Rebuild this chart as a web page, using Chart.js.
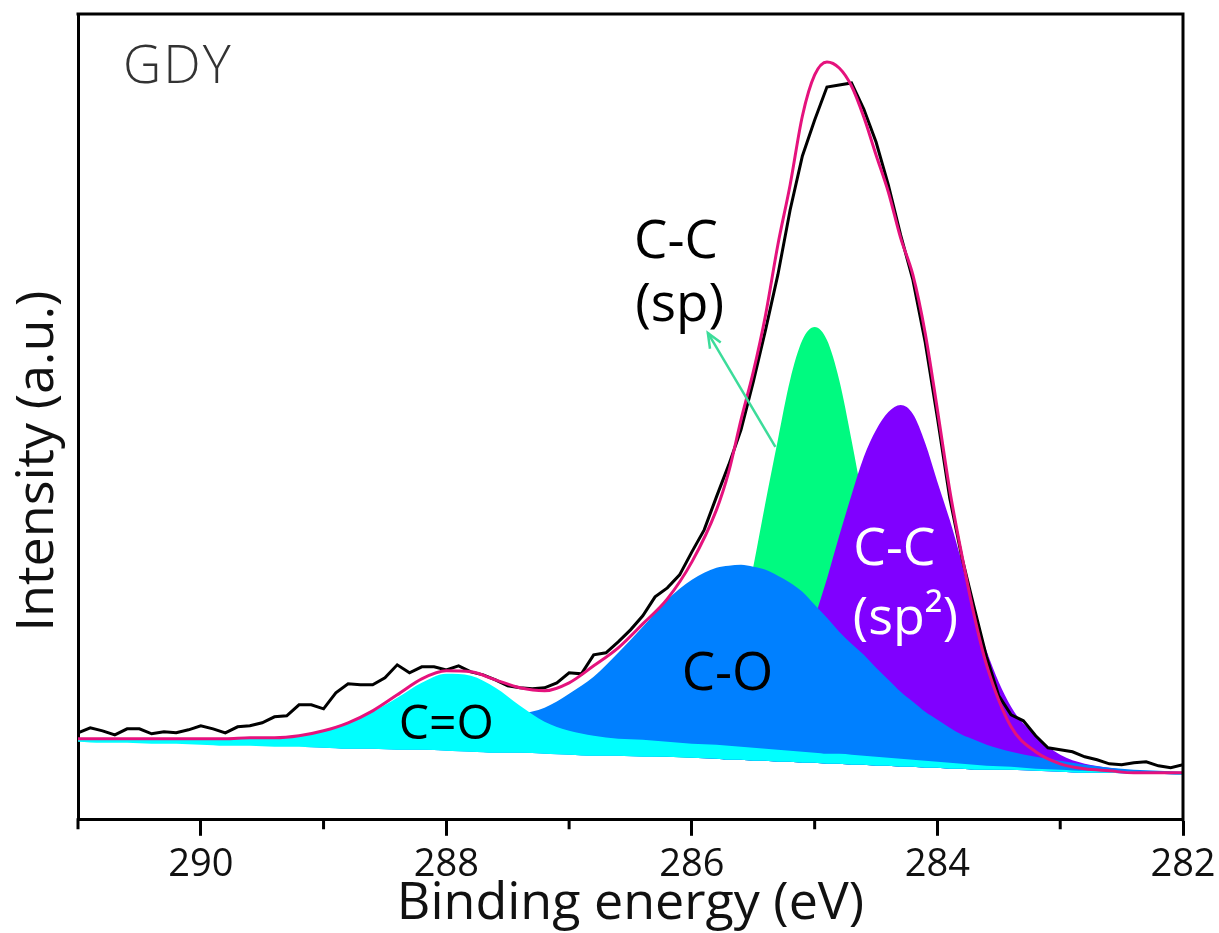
<!DOCTYPE html>
<html>
<head>
<meta charset="utf-8">
<script src="https://cdn.jsdelivr.net/npm/chart.js@4/dist/chart.umd.min.js"></script>
<style>
  html, body { margin: 0; padding: 0; background: #fff; }
  #wrap { width: 1219px; height: 933px; }
</style>
</head>
<body>
<div id="wrap"><canvas id="xpsChart" width="1219" height="933"></canvas></div>
<script>
// C 1s spectrum of GDY: binding energy (eV) vs intensity (a.u.)

// raw spectrum, 0.1 eV steps from 291.0 down to 282.0
const rawEnergy = [291.0,290.9,290.8,290.7,290.6,290.5,290.4,290.3,290.2,290.1,
  290.0,289.9,289.8,289.7,289.6,289.5,289.4,289.3,289.2,289.1,
  289.0,288.9,288.8,288.7,288.6,288.5,288.4,288.3,288.2,288.1,
  288.0,287.9,287.8,287.7,287.6,287.5,287.4,287.3,287.2,287.1,
  287.0,286.9,286.8,286.7,286.6,286.5,286.4,286.3,286.2,286.1,
  286.0,285.9,285.8,285.7,285.6,285.5,285.4,285.3,285.2,285.1,
  285.0,284.9,284.8,284.7,284.6,284.5,284.4,284.3,284.2,284.1,
  284.0,283.9,283.8,283.7,283.6,283.5,283.4,283.3,283.2,283.1,
  283.0,282.9,282.8,282.7,282.6,282.5,282.4,282.3,282.2,282.1,282.0];
const rawCounts = [87,92,89,85,91,91,86,88,87,90,
  94,91,87,93,94,97,103,104,115,115,
  111,127,136,135,135,142,155,147,153,153,
  150,154,148,145,140,134,132,131,132,137,
  147,146,165,167,178,190,204,223,232,245,
  268,290,323,355,390,438,490,545,610,664,
  700,733,735,737,711,678,635,585,540,478,
  402,322,262,212,163,124,105,99,84,72,
  70,68,63,60,56,55,57,58,54,52,55];

// energies shared by the envelope and the fitted components
const fitEnergy = [291.0,290.8,290.6,290.4,290.2,290.0,289.8,289.6,289.4,289.2,
  289.0,288.8,288.6,288.4,288.2,288.0,287.8,287.6,287.4,287.2,
  287.0,286.8,286.6,286.4,286.2,286.0,285.8,
  285.7,285.6,285.5,285.4,285.3,285.2,285.1,285.0,284.9,284.8,
  284.7,284.6,284.5,284.4,284.3,284.2,284.1,284.0,283.9,283.8,
  283.7,283.6,
  283.4,283.2,283.0,282.8,282.6,282.4,282.2,282.0];

const envelope = [81,81,81,81,81,81,81,82,82,84,
  89,97,109,125,141,149,148,140,132,129,
  137,154,172,196,221,258,310,
  348,400,448,505,575,635,704,745,758,752,
  734,703,665,628,582,545,487,410,330,264,
  204,155,
  93,68,56,51,49,47,47,47];
const background = [78,77,77,76,76,75,74,74,73,73,
  72,71,71,70,70,69,68,67,67,66,
  65,64,64,63,63,62,61,
  60,60,59,59,58,58,57,57,56,56,
  55,55,54,54,53,53,52,52,51,51,
  50,50,
  50,49,48,47,47,46,46,45];
const peakCO2 = [80,80,80,80,80,80,81,81,82,84,      // C=O
  89,97,108,122,137,146,144,132,114,98,
  89,84,81,80,78,76,75,
  74,73,72,71,70,69,68,67,66,66,
  65,64,63,62,61,60,59,58,57,56,
  55,54,
  53,51,50,49,49,48,47,47];
const peakCO = [78,77,77,76,76,75,74,74,73,73,       // C-O
  73,73,74,75,77,80,86,95,105,112,
  126,143,167,193,220,240,252,
  254,255,253,250,244,237,228,215,202,188,
  176,165,152,140,128,118,108,100,92,85,
  80,75,
  68,63,59,55,52,50,49,48];
const peakSp2 = [78,77,77,76,76,75,74,74,73,73,      // C-C (sp2)
  72,71,71,70,70,69,68,67,67,66,
  65,64,64,63,63,62,62,
  67,73,83,96,114,137,165,202,241,284,
  325,363,390,408,415,406,377,338,300,257,
  211,169,
  113,84,65,56,52,49,48,47];
const peakSp = [78,77,77,76,76,75,74,74,73,73,       // C-C (sp)
  72,71,71,70,70,69,68,67,67,66,
  65,64,64,63,65,78,115,
  148,192,253,318,380,440,480,493,480,440,
  380,314,248,186,140,107,83,68,60,55,
  52,51,
  50,49,48,47,47,46,46,45];

const xTicks = [282, 283, 284, 285, 286, 287, 288, 289, 290, 291];

function pts(xs, ys) {
  return xs.map((x, i) => ({ x: x, y: ys[i] }));
}

Chart.defaults.font.family = "'Open Sans', 'DejaVu Sans', sans-serif";
Chart.defaults.color = '#111';

const BG = 6; // index of the background dataset the peaks are filled to

// peak labels, arrow, y title, frame and minor ticks
const decorations = {
  id: 'decorations',
  afterDatasetsDraw(chart) {
    const { ctx, chartArea: a, scales: { x, y } } = chart;
    const put = (txt, e, v) => ctx.fillText(txt, x.getPixelForValue(e), y.getPixelForValue(v));
    ctx.save();
    ctx.textAlign = 'center';
    ctx.textBaseline = 'alphabetic';
    ctx.fillStyle = '#000';
    ctx.font = "53px 'Open Sans'";
    put('C-C', 286.13, 562);
    put('(sp)', 286.10, 499);
    put('C-O', 285.71, 130);
    ctx.font = "48px 'Open Sans'";
    put('C=O', 288.0, 81);
    ctx.fillStyle = '#fff';
    ctx.font = "52px 'Open Sans'";
    put('C-C', 284.35, 255);
    put('(sp\u00b2)', 284.26, 186);

    ctx.textAlign = 'left';
    ctx.fillStyle = '#333';
    ctx.font = "300 53px 'Open Sans'";
    ctx.letterSpacing = '2px';
    ctx.fillText('GDY', a.left + 45, a.top + 69);
    ctx.letterSpacing = '0px';

    // arrow pointing at the sp label
    const x0 = x.getPixelForValue(285.32), y0 = y.getPixelForValue(373);
    const x1 = x.getPixelForValue(285.87), y1 = y.getPixelForValue(487);
    const ang = Math.atan2(y1 - y0, x1 - x0);
    ctx.strokeStyle = '#3cdc9a';
    ctx.lineWidth = 2.5;
    ctx.beginPath();
    ctx.moveTo(x0, y0);
    ctx.lineTo(x1, y1);
    ctx.stroke();
    ctx.beginPath();
    ctx.moveTo(x1 - 16 * Math.cos(ang - 0.4), y1 - 16 * Math.sin(ang - 0.4));
    ctx.lineTo(x1, y1);
    ctx.lineTo(x1 - 16 * Math.cos(ang + 0.4), y1 - 16 * Math.sin(ang + 0.4));
    ctx.stroke();
    ctx.restore();
  },
  afterDraw(chart) {
    const { ctx, chartArea: a, scales: { x } } = chart;
    ctx.save();
    // y axis title, sits a little below the middle of the axis
    ctx.translate(a.left - 25, a.top + 447);
    ctx.rotate(-Math.PI / 2);
    ctx.textAlign = 'center';
    ctx.textBaseline = 'alphabetic';
    ctx.fillStyle = '#111';
    ctx.font = "52px 'Open Sans'";
    ctx.fillText('Intensity (a.u.)', 0, 0);
    ctx.restore();

    ctx.save();
    ctx.strokeStyle = '#000';
    ctx.lineWidth = 3;
    ctx.lineCap = 'square';
    ctx.beginPath();
    ctx.moveTo(a.left, a.top);
    ctx.lineTo(a.right, a.top);
    ctx.lineTo(a.right, a.bottom);
    // short minor ticks on odd energies
    x.ticks.forEach(t => {
      if (t.value % 2 !== 0) {
        const px = x.getPixelForValue(t.value);
        ctx.moveTo(px, a.bottom);
        ctx.lineTo(px, a.bottom + 8);
      }
    });
    ctx.stroke();
    ctx.restore();
  }
};

const line = { pointRadius: 0, borderWidth: 0, tension: 0 };

new Chart(document.getElementById('xpsChart'), {
  type: 'line',
  data: {
    datasets: [
      { ...line, label: 'Fit', data: pts(fitEnergy, envelope), borderColor: '#e5127d', borderWidth: 3,
        cubicInterpolationMode: 'monotone', fill: false },
      { ...line, label: 'Raw', data: pts(rawEnergy, rawCounts), borderColor: '#000', borderWidth: 3, fill: false },
      { ...line, label: 'C=O', data: pts(fitEnergy, peakCO2), cubicInterpolationMode: 'monotone',
        backgroundColor: '#00ffff', fill: BG },
      { ...line, label: 'C-O', data: pts(fitEnergy, peakCO), cubicInterpolationMode: 'monotone',
        backgroundColor: '#0080ff', fill: BG },
      { ...line, label: 'C-C (sp2)', data: pts(fitEnergy, peakSp2), cubicInterpolationMode: 'monotone',
        backgroundColor: '#8000ff', fill: BG },
      { ...line, label: 'C-C (sp)', data: pts(fitEnergy, peakSp), cubicInterpolationMode: 'monotone',
        backgroundColor: '#00fa80', fill: BG },
      { ...line, label: 'Background', data: pts(fitEnergy, background), cubicInterpolationMode: 'monotone',
        borderColor: 'rgba(0,0,0,0)', fill: false }
    ]
  },
  options: {
    responsive: false,
    devicePixelRatio: 1,
    animation: false,
    layout: { padding: { top: 14, right: 36, left: 78, bottom: 0 } },
    plugins: { legend: { display: false }, tooltip: { enabled: false } },
    scales: {
      x: {
        type: 'linear',
        reverse: true,
        min: 282,
        max: 291,
        z: 1,
        afterBuildTicks: scale => { scale.ticks = xTicks.map(v => ({ value: v })); },
        ticks: {
          font: { size: 38, lineHeight: 1 },
          color: '#111',
          padding: 10,
          maxRotation: 0,
          autoSkip: false,
          callback: v => (v % 2 === 0 ? String(v) : '')
        },
        grid: {
          drawOnChartArea: false,
          drawTicks: true,
          tickLength: 16,
          tickWidth: 3,
          tickColor: c => (c.tick && c.tick.value % 2 === 0 ? '#000' : 'rgba(0,0,0,0)')
        },
        border: { display: true, color: '#000', width: 3 },
        title: {
          display: true,
          text: 'Binding energy (eV)',
          font: { size: 52, lineHeight: 0.6 },
          color: '#111',
          padding: { top: -5, bottom: 13 }
        }
      },
      y: {
        min: 0,
        max: 806,
        z: 1,
        ticks: { display: false },
        grid: { display: false, drawTicks: false },
        border: { display: true, color: '#000', width: 3 },
        title: { display: false }
      }
    }
  },
  plugins: [decorations]
});
</script>
</body>
</html>
